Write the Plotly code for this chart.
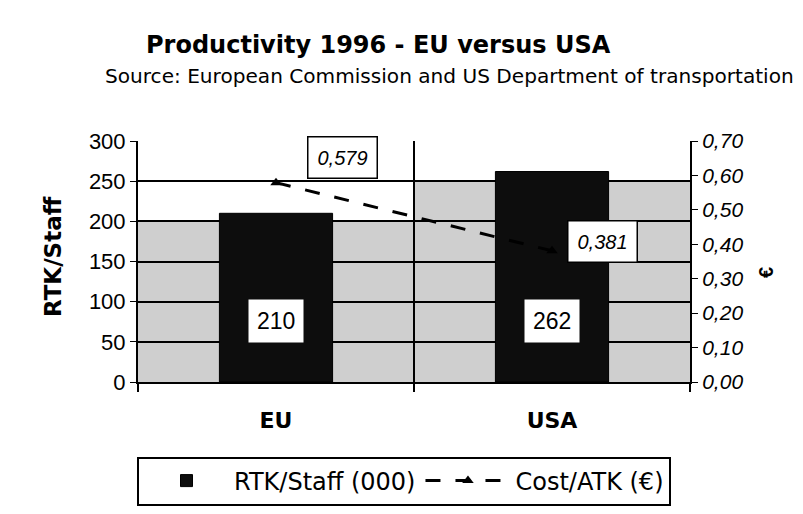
import plotly.graph_objects as go

categories = ["EU", "USA"]
rtk_staff = [210, 262]
cost_atk = [0.579, 0.381]
cost_labels = ["0,579", "0,381"]
left_ticks = [0, 50, 100, 150, 200, 250, 300]
right_ticks = [0.0, 0.1, 0.2, 0.3, 0.4, 0.5, 0.6, 0.7]

FONT = "Arial, Liberation Sans, sans-serif"
WIDE = "DejaVu Sans, Arial, sans-serif"

# plot area in reference-screen pixels (page has an 8px body offset)
PL, PR, PT, PB = 138, 690, 141, 382
PW, PH = PR - PL, PB - PT
OFF = 8


def px(xp):
    return (xp - PL) / PW


def py(yp):
    return (PB - yp) / PH


fig = go.Figure()

fig.add_trace(go.Bar(
    x=categories, y=rtk_staff, name="RTK/Staff (000)",
    marker=dict(color="#0d0d0d", line=dict(color="#000", width=1)),
    width=0.41,
))

fig.add_trace(go.Scatter(
    x=categories, y=cost_atk, name="Cost/ATK (€)", yaxis="y2",
    mode="lines+markers",
    line=dict(color="#000", width=3, dash="longdash"),
    marker=dict(symbol="triangle-up", size=10, color="#000"),
))

# grey stippled background regions
fig.add_shape(type="rect", xref="x", yref="y", x0=-0.5, x1=0.5, y0=0, y1=200,
              fillcolor="#cfcfcf", line=dict(width=0), layer="below")
fig.add_shape(type="rect", xref="x", yref="y", x0=0.5, x1=1.5, y0=0, y1=250,
              fillcolor="#cfcfcf", line=dict(width=0), layer="below")
# category divider
fig.add_shape(type="line", xref="x", yref="y", x0=0.5, x1=0.5, y0=0, y1=300,
              line=dict(color="#000", width=2), layer="below")

annotations = []
for c, v in zip(categories, rtk_staff):
    annotations.append(dict(
        x=c, y=76, xref="x", yref="y", text=str(v), showarrow=False,
        bgcolor="white", font=dict(family=FONT, size=23, color="#000"),
        borderpad=8,
    ))
shifts = [(66, 25), (50, 9)]
for c, v, lab, (dx, dy) in zip(categories, cost_atk, cost_labels, shifts):
    annotations.append(dict(
        x=c, y=v, xref="x", yref="y2", text=lab, showarrow=False,
        xshift=dx, yshift=dy, bgcolor="white", bordercolor="#000", borderwidth=1.5,
        font=dict(family=FONT, size=20, color="#000", style="italic"),
        borderpad=9,
    ))
annotations.append(dict(
    x=px(378), y=py(45), xref="paper", yref="paper",
    text="<b>Productivity 1996 - EU versus USA</b>", showarrow=False,
    font=dict(family=WIDE, size=24, color="#000"), xanchor="center", yanchor="middle",
))
annotations.append(dict(
    x=px(449), y=py(76), xref="paper", yref="paper",
    text="Source: European Commission and US Department of transportation",
    showarrow=False, font=dict(family=WIDE, size=20.1, color="#000"),
    xanchor="center", yanchor="middle",
))
annotations.append(dict(
    x=px(53), y=py(257), xref="paper", yref="paper",
    text="<b>RTK/Staff</b>", textangle=-90, showarrow=False,
    font=dict(family=WIDE, size=23, color="#000"), xanchor="center", yanchor="middle",
))
annotations.append(dict(
    x=px(766), y=py(273), xref="paper", yref="paper",
    text="<b>€</b>", textangle=-90, showarrow=False,
    font=dict(family=FONT, size=20, color="#000"), xanchor="center", yanchor="middle",
))

fig.update_layout(
    width=803, height=514,
    margin=dict(l=PL - OFF, r=803 - PR + OFF, t=PT - OFF, b=514 - PB + OFF,
                autoexpand=False),
    paper_bgcolor="white", plot_bgcolor="white",
    separators=",.",
    showlegend=True,
    font=dict(family=FONT, color="#000"),
    annotations=annotations,
    xaxis=dict(
        type="category", range=[-0.5, 1.5], showgrid=False,
        showline=True, linecolor="#000", linewidth=2,
        ticks="outside", tickson="boundaries", ticklen=8, tickwidth=2, tickcolor="#000",
        tickfont=dict(family=WIDE, size=22, weight="bold"),
        ticklabelstandoff=18,
    ),
    yaxis=dict(
        range=[0, 300], tickvals=left_ticks, showgrid=True, gridcolor="#000", gridwidth=1.5,
        showline=True, linecolor="#000", linewidth=2, ticks="outside", ticklen=6,
        tickcolor="#000", tickfont=dict(family=FONT, size=22), zeroline=False,
    ),
    yaxis2=dict(
        overlaying="y", side="right", range=[0, 0.7], tickvals=right_ticks,
        tickformat=".2f", showgrid=False, showline=True, linecolor="#000", linewidth=2,
        ticks="outside", ticklen=6, tickcolor="#000", zeroline=False,
        tickfont=dict(family=FONT, size=21, style="italic"),
    ),
    legend=dict(
        orientation="h", x=px(404), xanchor="center",
        y=py(481), yanchor="middle",
        bordercolor="#000", borderwidth=2, bgcolor="white",
        font=dict(family=WIDE, size=24, color="#000"),
        itemwidth=85,
    ),
)

fig.write_html("out.html")
